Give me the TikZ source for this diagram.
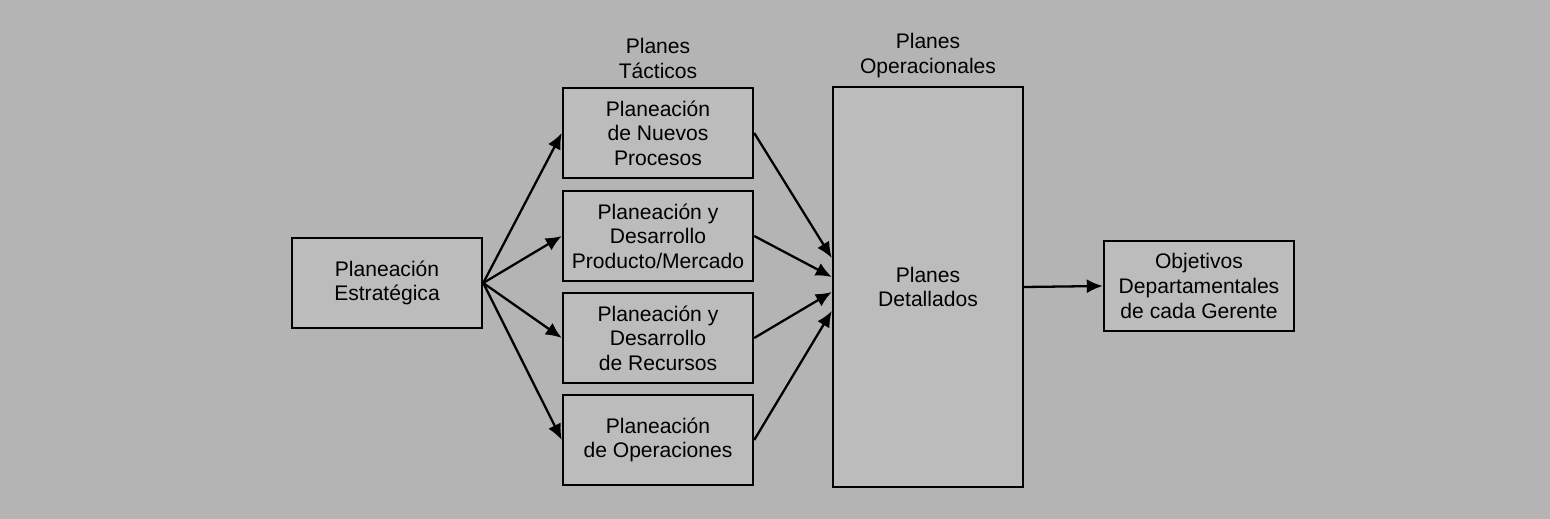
\documentclass[tikz,border=0pt]{standalone}
\usepackage{fontspec}
\setmainfont{Liberation Sans}
\usepackage{tikz}
\usetikzlibrary{arrows.meta,positioning,calc}
\definecolor{PaperGray}{RGB}{180,180,180}
\definecolor{BoxGray}{RGB}{188,188,188}

\begin{document}
\begin{tikzpicture}[x=0.02cm, y=-0.02cm,
    planbox/.style={draw, line width=1.4pt, fill=BoxGray, align=center,
      minimum width=3.8cm, minimum height=1.8cm, inner sep=2pt,
      font=\fontsize{12}{14}\selectfont},
    headlbl/.style={align=center, font=\fontsize{12}{14}\selectfont},
    flow/.style={-{Latex[length=3.2mm, width=2.8mm]}, line width=1.3pt}]
        \useasboundingbox[fill=PaperGray] (0,0) rectangle (1550,519);
        % estrategica
        \node[planbox] (estr) at (387,283) {Planeación\\Estratégica};
        % tacticos
        \node[planbox] (nuevos) at (658,133) {Planeación\\de Nuevos\\Procesos};
        \node[planbox] (prod) at (658,236) {Planeación y\\Desarrollo\\Producto/Mercado};
        \node[planbox] (recur) at (658,338) {Planeación y\\Desarrollo\\de Recursos};
        \node[planbox] (opera) at (658,440) {Planeación\\de Operaciones};
        \node[headlbl, above=0.04cm of nuevos] (tactlbl) {Planes\\Tácticos};
        % operacionales
        \node[planbox, minimum height=8cm] (detal) at (928,287) {Planes\\Detallados};
        \node[headlbl, above=0.04cm of detal] (operlbl) {Planes\\Operacionales};
        \node[planbox] (objet) at (1199,286) {Objetivos\\Departamentales\\de cada Gerente};
        % flechas
        \foreach \t in {nuevos,prod,recur,opera}
          \draw[flow] (estr.east) -- (\t.west);
        \draw[flow] (nuevos.east) -- ([yshift=0.58cm]detal.west);
        \draw[flow] (prod.east) -- ([yshift=0.2cm]detal.west);
        \draw[flow] (recur.east) -- ([yshift=-0.1cm]detal.west);
        \draw[flow] (opera.east) -- ([yshift=-0.48cm]detal.west);
        \draw[flow] (detal.east) -- (objet.west);
      \end{tikzpicture}
\end{document}
